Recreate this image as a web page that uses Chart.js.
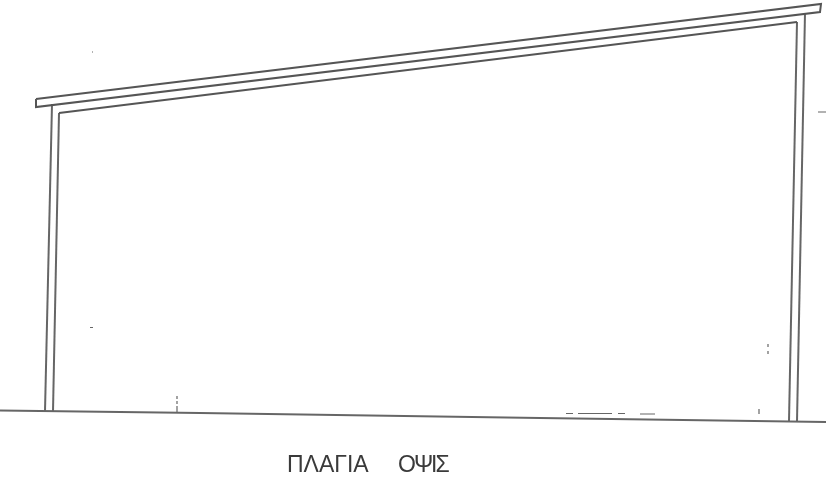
<!DOCTYPE html>
<html>
<head>
<meta charset="utf-8">
<script src="https://cdn.jsdelivr.net/npm/chart.js@4"></script>
<style>
  html, body { margin: 0; padding: 0; background: #fff; }
  canvas { display: block; }
</style>
</head>
<body>
<canvas id="myChart" width="826" height="484"></canvas>
<script>
// outline of the drawing, x and y in sheet units
const roofX = [36, 821, 820, 36, 36];
const roofY = [99, 4, 12, 107, 99];
const innerRoofX = [59, 797];
const innerRoofY = [113, 22];
const leftOuterX = [52, 45];
const leftOuterY = [104, 411];
const leftInnerX = [59, 53];
const leftInnerY = [113, 411];
const rightInnerX = [797, 789];
const rightInnerY = [22, 421];
const rightOuterX = [805, 797];
const rightOuterY = [13, 421];
const groundX = [0, 200, 540, 826];
const groundY = [410.5, 413, 418, 422];

// scan marks, null breaks the line
const marksX = [818, 826, null, 177, 177, null, 177, 177, null, 177, 177, null, 566, 573, null, 578, 612, null, 618, 625, null, 640, 655, null, 759, 759, null, 768, 768, null, 768, 768, null, 90, 93, null, 92, 93];
const marksY = [112, 112, null, 396, 399, null, 401, 404, null, 406, 412, null, 413.5, 413.5, null, 413.5, 413.5, null, 413.5, 413.5, null, 414, 414, null, 409, 414, null, 344, 347, null, 351, 354, null, 327.5, 327.5, null, 52, 52];

const titleWords = ["ΠΛΑΓΙΑ", "ΟΨΙΣ"];
const titleWordX = [287, 398];
const titleY = 472;

function toPoints(xs, ys) {
  return xs.map((x, i) => (x === null ? { x: NaN, y: NaN } : { x: x, y: ys[i] }));
}

function lineSet(xs, ys, width, color) {
  return {
    data: toPoints(xs, ys),
    showLine: true,
    borderColor: color,
    borderWidth: width,
    pointRadius: 0,
    tension: 0,
    spanGaps: false
  };
}

const titlePlugin = {
  id: "sheetTitle",
  afterDraw(chart) {
    const ctx = chart.ctx;
    ctx.save();
    ctx.font = "23px 'Liberation Sans'";
    ctx.fillStyle = "#3a3a3a";
    ctx.textBaseline = "alphabetic";
    titleWords.forEach((word, i) => {
      ctx.letterSpacing = i === 0 ? "0px" : "-2px";
      ctx.fillText(word, chart.scales.x.getPixelForValue(titleWordX[i]), chart.scales.y.getPixelForValue(titleY));
    });
    ctx.restore();
  }
};

new Chart(document.getElementById("myChart").getContext("2d"), {
  type: "scatter",
  data: {
    datasets: [
      lineSet(roofX, roofY, 2, "#555"),
      lineSet(innerRoofX, innerRoofY, 2, "#555"),
      lineSet(leftOuterX, leftOuterY, 2, "#666"),
      lineSet(leftInnerX, leftInnerY, 2, "#666"),
      lineSet(rightInnerX, rightInnerY, 2, "#666"),
      lineSet(rightOuterX, rightOuterY, 2, "#666"),
      lineSet(groundX, groundY, 2, "#666"),
      lineSet(marksX, marksY, 1.2, "#666")
    ]
  },
  options: {
    responsive: false,
    animation: false,
    layout: { padding: 0 },
    plugins: { legend: { display: false }, tooltip: { enabled: false } },
    scales: {
      x: { type: "linear", min: 0, max: 826, display: false },
      y: { type: "linear", min: 0, max: 484, reverse: true, display: false }
    }
  },
  plugins: [titlePlugin]
});
</script>
</body>
</html>
